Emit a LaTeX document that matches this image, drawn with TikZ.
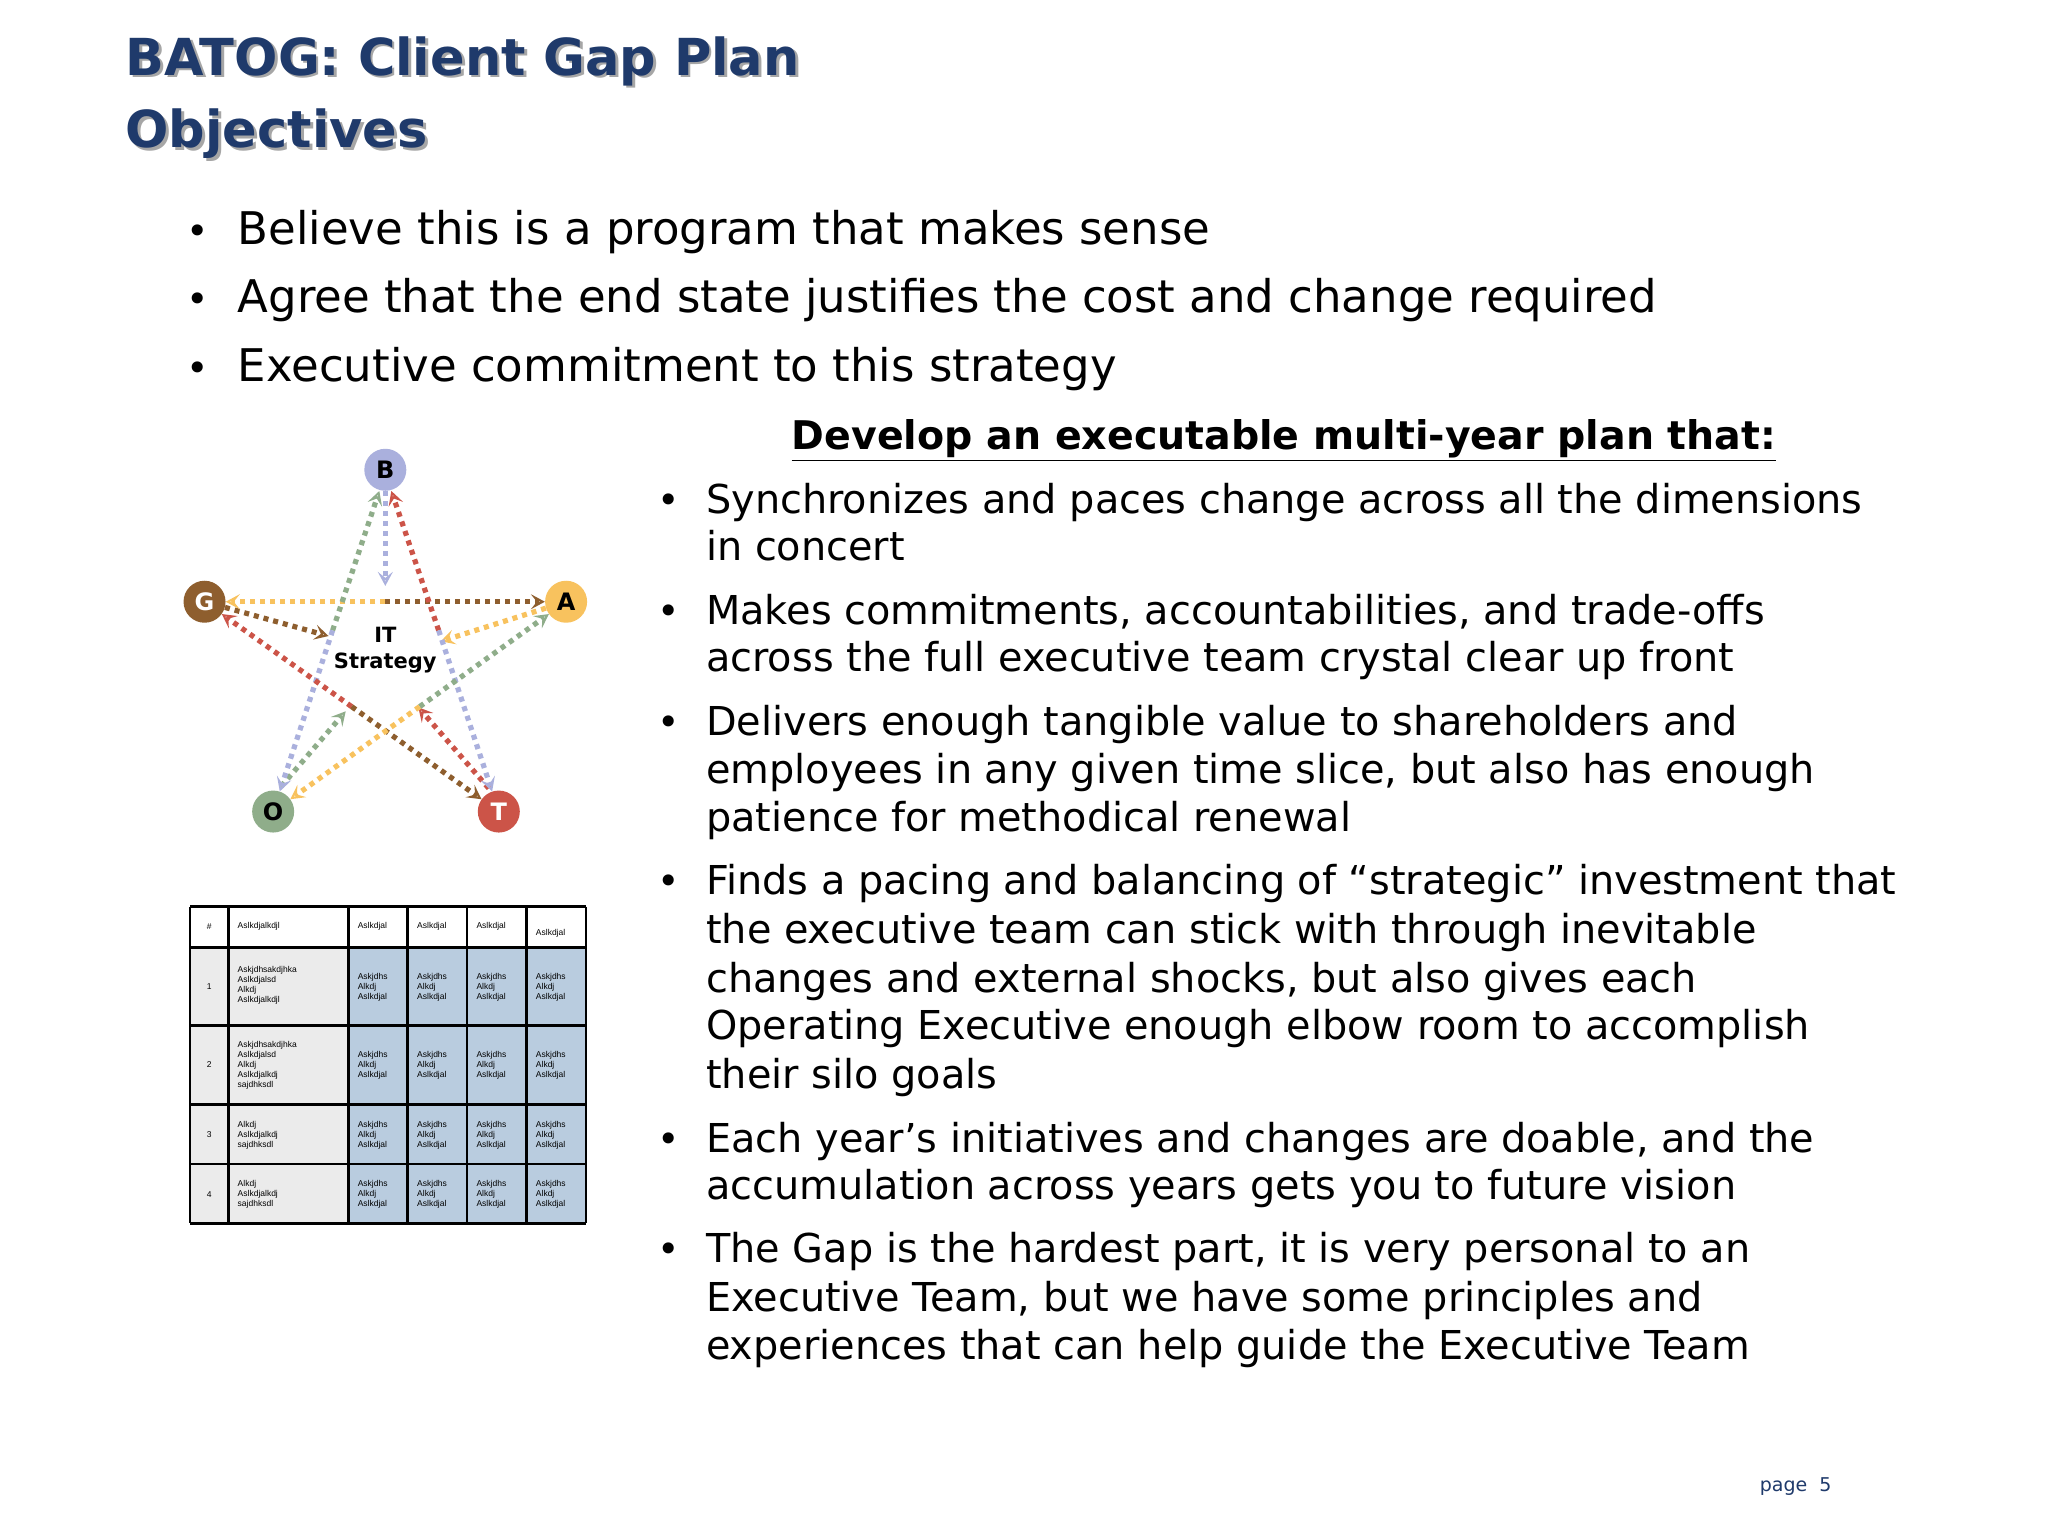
\documentclass[tikz,border=0pt]{standalone}
\usepackage{fontspec}
\setmainfont{DejaVu Sans}
\newfontfamily\tabfont{Liberation Sans}
\usetikzlibrary{arrows.meta,calc}
\definecolor{navy}{HTML}{1F3A6B}
\definecolor{cB}{HTML}{AAB0DD}
\definecolor{cG}{HTML}{8E5E2E}
\definecolor{cA}{HTML}{F8C25E}
\definecolor{cO}{HTML}{8FAD8A}
\definecolor{cT}{HTML}{CC5448}
\definecolor{cell}{HTML}{B9CCDF}
\definecolor{grayc}{HTML}{EBEBEB}
\tikzset{
  x=1.3196pt,y=-1.3196pt,
  top/.style={anchor=base west,inner sep=0,font=\fontsize{45}{54}\selectfont},
  body/.style={anchor=base west,inner sep=0,font=\fontsize{39.8}{48}\selectfont},
  dot/.style={anchor=base,inner sep=0,font=\fontsize{38}{44}\selectfont},
  letter/.style={circle,minimum size=42pt,inner sep=0,font=\bfseries\fontsize{24}{24}\selectfont},
  arr/.style={line width=5.2pt,dash pattern=on 5pt off 5pt,-{Stealth[length=14pt,width=15pt,inset=6pt,line width=2pt,open]}},
  tc/.style={draw=black,line width=2.6pt},
  tt/.style={align=left,anchor=west,inner sep=0,font=\tabfont\fontsize{8.5}{10}\selectfont},
  ttl/.style={anchor=base west,inner sep=0,font=\bfseries\fontsize{51}{60}\selectfont},
}
\begin{document}
\begin{tikzpicture}
\useasboundingbox[fill=white] (0,0) rectangle (1552,1164);
% title
\node[ttl,text=gray!70] at (97,59) {BATOG: Client Gap Plan};
\node[ttl,text=gray!70] at (97,114) {Objectives};
\node[ttl,text=navy] (t1) at (95,57) {BATOG: Client Gap Plan};
\node[ttl,text=navy] (t2) at (95,112) {Objectives};
% top bullets
\foreach \y/\t [count=\i] in {185/Believe this is a program that makes sense,237/Agree that the end state justifies the cost and change required,289/Executive commitment to this strategy}{
  \node[dot] (tb\i) at (150,\y) {•};
  \node[top] (tt\i) at (180,\y) {\t};
}
\node[anchor=base,inner sep=0,font=\bfseries\fontsize{39.5}{48}\selectfont] (head) at (973,341) {\underline{Develop an executable multi-year plan that:}};
% right bullets
\foreach \y in {389,473,557,678,873,957}{ \node[dot] at (507,\y) {•}; }
\foreach \y/\t [count=\i] in {
389/Synchronizes and paces change across all the dimensions,
425/in concert,
473/{Makes commitments, accountabilities, and trade-offs},
509/across the full executive team crystal clear up front,
557/Delivers enough tangible value to shareholders and,
594/{employees in any given time slice, but also has enough},
630/patience for methodical renewal,
678/Finds a pacing and balancing of “strategic” investment that,
715/the executive team can stick with through inevitable,
752/{changes and external shocks, but also gives each},
788/Operating Executive enough elbow room to accomplish,
825/their silo goals,
873/{Each year’s initiatives and changes are doable, and the},
909/accumulation across years gets you to future vision,
957/{The Gap is the hardest part, it is very personal to an},
994/{Executive Team, but we have some principles and},
1030/experiences that can help guide the Executive Team}{
  \node[body] (rb\i) at (535,\y) {\t};
}
% star
\node[letter,fill=cB] (B) at (292,356) {B};
\node[letter,fill=cG,text=white] (G) at (155,456) {G};
\node[letter,fill=cA] (A) at (429,456) {A};
\node[letter,fill=cO] (O) at (207,615) {O};
\node[letter,fill=cT,text=white] (T) at (378,615) {T};
\node[align=center,font=\bfseries\fontsize{21}{26}\selectfont] (it) at (292,493) {IT\\Strategy};
\coordinate (cB) at (292,444);
\coordinate (cG) at (249,482);
\coordinate (cA) at (334,486);
\coordinate (cO) at (262,539);
\coordinate (cT) at (317,536);
\draw[arr,cB] (B) -- (cB);
\draw[arr,cG] (G) -- (cG);
\draw[arr,cA] (A) -- (cA);
\draw[arr,cO] ([xshift=8pt,yshift=4pt]O.north) -- (cO);
\draw[arr,cT] ([xshift=-10pt,yshift=2pt]T.north) -- (cT);
% chords
\draw[arr,cA] ($(G)!0.5!(A)$) -- (G);
\draw[arr,cG] ($(G)!0.5!(A)$) -- (A);
\draw[arr,cO] ($(B)!0.47!(O)$) -- ([xshift=-6pt]B.south);
\draw[arr,cB] ($(B)!0.47!(O)$) -- (O);
\draw[arr,cT] ($(B)!0.47!(T)$) -- ([xshift=6pt]B.south);
\draw[arr,cB] ($(B)!0.47!(T)$) -- (T);
\draw[arr,cT] ($(G)!0.5!(T)$) -- (G);
\draw[arr,cG] ($(G)!0.5!(T)$) -- (T);
\draw[arr,cO] ($(A)!0.5!(O)$) -- (A);
\draw[arr,cA] ($(A)!0.5!(O)$) -- (O);
% table
\fill[white] (144,687) rectangle (444,718);
\fill[grayc] (144,718) rectangle (264,927);
\fill[cell] (264,718) rectangle (444,927);
\foreach \x in {144,173,264,309,354,399,444}{\draw[tc] (\x,687) -- (\x,927);}
\foreach \y in {687,718,777,837,882,927}{\draw[tc] (144,\y) -- (444,\y);}
\node[font=\tabfont\fontsize{8.5}{10}\selectfont] (h0) at (158.5,702) {\#};
\node[tt] (h1) at (180,702) {Aslkdjalkdjl};
\foreach \x in {271,316,361}{\node[tt] at (\x,702) {Aslkdjal};}
\node[tt] (h6) at (406,707) {Aslkdjal};
\foreach \n/\y in {1/748,2/807,3/860,4/905}{\node[font=\tabfont\fontsize{8.5}{10}\selectfont] at (158.5,\y) {\n};}
\node[tt] at (180,747) {Askjdhsakdjhka\\Aslkdjalsd\\Alkdj\\Aslkdjalkdjl};
\node[tt] at (180,807) {Askjdhsakdjhka\\Aslkdjalsd\\Alkdj\\Aslkdjalkdj\\sajdhksdl};
\node[tt] at (180,860) {Alkdj\\Aslkdjalkdj\\sajdhksdl};
\node[tt] at (180,905) {Alkdj\\Aslkdjalkdj\\sajdhksdl};
\foreach \y in {748,807,860,905}{\foreach \x in {271,316,361,406}{
  \node[tt] at (\x,\y) {Askjdhs\\Alkdj\\Aslkdjal};}}
\node[anchor=base east,inner sep=0,text=navy,font=\fontsize{19}{20}\selectfont] (pg) at (1388,1130) {page\ \ 5};
\end{tikzpicture}
\end{document}
